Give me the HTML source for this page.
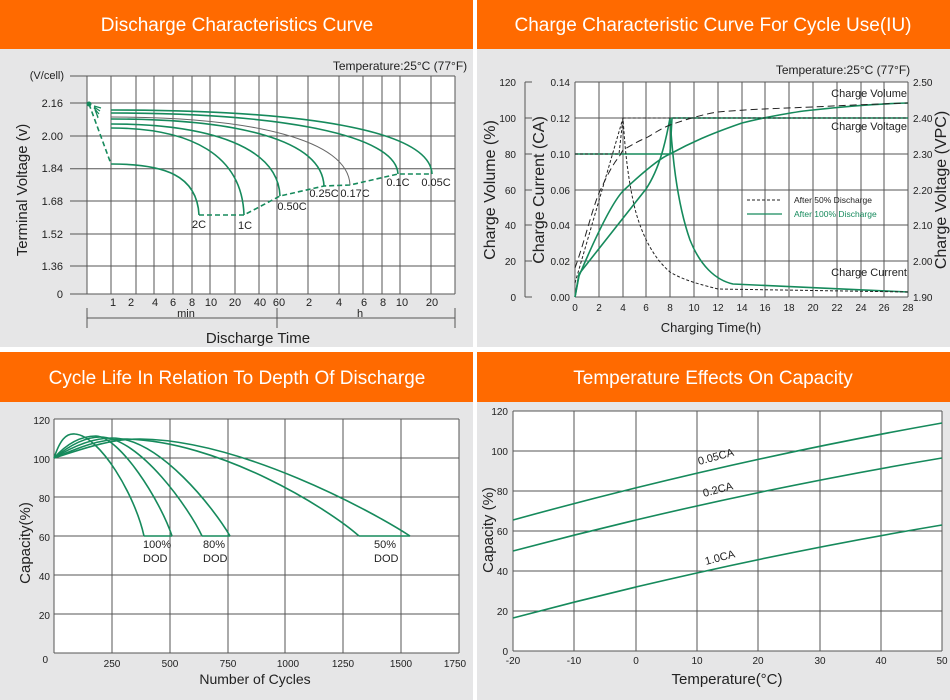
<!DOCTYPE html>
<html><head><meta charset="utf-8"><style>
html,body{margin:0;padding:0;background:#fff}
svg{display:block}
text{font-family:"Liberation Sans",sans-serif;fill:#222}
.h{fill:#fff;font-size:19px}
.t{font-size:11px}
.s{font-size:10px}
.g line{stroke:#555;stroke-width:1}
.c{fill:none;stroke:#168a5c;stroke-width:1.6}
</style></head><body>
<svg width="950" height="700" viewBox="0 0 950 700" xmlns="http://www.w3.org/2000/svg">
<rect width="950" height="700" fill="#fff"/>
<rect x="0" y="0" width="473" height="347" fill="#e6e6e7"/>
<rect x="477" y="0" width="473" height="347" fill="#e6e6e7"/>
<rect x="0" y="352" width="473" height="348" fill="#e6e6e7"/>
<rect x="477" y="352" width="473" height="348" fill="#e6e6e7"/>
<rect x="0" y="0" width="473" height="49" fill="#ff6a00"/>
<rect x="477" y="0" width="473" height="49" fill="#ff6a00"/>
<rect x="0" y="352" width="473" height="50" fill="#ff6a00"/>
<rect x="477" y="352" width="473" height="50" fill="#ff6a00"/>
<text class="h" x="237" y="31" text-anchor="middle">Discharge Characteristics Curve</text>
<text class="h" x="713" y="31" text-anchor="middle">Charge Characteristic Curve For Cycle Use(IU)</text>
<text class="h" x="237" y="384" text-anchor="middle">Cycle Life In Relation To Depth Of Discharge</text>
<text class="h" x="713" y="384" text-anchor="middle">Temperature Effects On Capacity</text>

<!-- PANEL 1 -->
<rect x="87" y="76" width="368" height="218" fill="#fff"/>
<g class="g">
<line x1="87" y1="76" x2="455" y2="76"/><line x1="87" y1="103" x2="455" y2="103"/><line x1="87" y1="136" x2="455" y2="136"/><line x1="87" y1="168.7" x2="455" y2="168.7"/><line x1="87" y1="201" x2="455" y2="201"/><line x1="87" y1="234" x2="455" y2="234"/><line x1="87" y1="266" x2="455" y2="266"/><line x1="87" y1="294" x2="455" y2="294"/>
<line x1="87" y1="76" x2="87" y2="294"/><line x1="111" y1="76" x2="111" y2="294"/><line x1="136" y1="76" x2="136" y2="294"/><line x1="154" y1="76" x2="154" y2="294"/><line x1="173" y1="76" x2="173" y2="294"/><line x1="192" y1="76" x2="192" y2="294"/><line x1="210" y1="76" x2="210" y2="294"/><line x1="235" y1="76" x2="235" y2="294"/><line x1="259" y1="76" x2="259" y2="294"/><line x1="277" y1="76" x2="277" y2="294"/><line x1="308" y1="76" x2="308" y2="294"/><line x1="339" y1="76" x2="339" y2="294"/><line x1="363" y1="76" x2="363" y2="294"/><line x1="382" y1="76" x2="382" y2="294"/><line x1="400" y1="76" x2="400" y2="294"/><line x1="431" y1="76" x2="431" y2="294"/><line x1="455" y1="76" x2="455" y2="294"/>
<line x1="70" y1="76" x2="87" y2="76"/><line x1="70" y1="103" x2="87" y2="103"/><line x1="70" y1="136" x2="87" y2="136"/><line x1="70" y1="168.7" x2="87" y2="168.7"/><line x1="70" y1="201" x2="87" y2="201"/><line x1="70" y1="234" x2="87" y2="234"/><line x1="70" y1="266" x2="87" y2="266"/><line x1="70" y1="294" x2="87" y2="294"/>
<line x1="87" y1="318" x2="455" y2="318"/><line x1="87" y1="308" x2="87" y2="328"/><line x1="277" y1="308" x2="277" y2="328"/><line x1="455" y1="308" x2="455" y2="328"/>
</g>
<g class="t" text-anchor="end">
<text x="64" y="79">(V/cell)</text><text x="63" y="107">2.16</text><text x="63" y="140">2.00</text><text x="63" y="172">1.84</text><text x="63" y="205">1.68</text><text x="63" y="238">1.52</text><text x="63" y="270">1.36</text><text x="63" y="298">0</text>
</g>
<g class="t" text-anchor="middle">
<text x="113" y="306">1</text><text x="131" y="306">2</text><text x="155" y="306">4</text><text x="173" y="306">6</text><text x="192" y="306">8</text><text x="211" y="306">10</text><text x="235" y="306">20</text><text x="260" y="306">40</text><text x="279" y="306">60</text><text x="309" y="306">2</text><text x="339" y="306">4</text><text x="364" y="306">6</text><text x="383" y="306">8</text><text x="402" y="306">10</text><text x="432" y="306">20</text>
<text x="186" y="317">min</text><text x="360" y="317">h</text>
</g>
<text x="258" y="343" text-anchor="middle" font-size="15">Discharge  Time</text>
<text x="400" y="70" text-anchor="middle" font-size="12">Temperature:25°C (77°F)</text>
<text transform="translate(27,190) rotate(-90)" text-anchor="middle" font-size="15">Terminal  Voltage  (v)</text>
<g class="c">
<path d="M111 110 C304 110,430 130,432 174"/>
<path d="M111 113 C283 113,396 135,398 174"/>
<path d="M111 119 C239 119,322 140,324 186"/>
<path d="M111 124 C212 124,278 148,280 196"/>
<path d="M111 128 C191 128,242 155,244 215"/>
<path d="M111 164 C164 164,197 175,199 215"/>
<path d="M89 104 L111 164 M199 215 L244 215 L280 196 L324 186 L350 185 L398 174 L432 174" stroke-dasharray="5,3"/>
<path d="M94 106 L101 108 M94 107 L100 111 M94 108 L99 114 M95 110 L98 117 M96 112 L98 118" stroke-width="1.2"/>
</g>
<path d="M111 117 C254 117,348 140,350 185" fill="none" stroke="#666" stroke-width="1"/>
<circle cx="89" cy="104" r="2.5" fill="#168a5c"/>
<g class="t" text-anchor="middle">
<text x="199" y="228">2C</text><text x="245" y="229">1C</text><text x="292" y="210">0.50C</text><text x="324" y="197">0.25C</text><text x="355" y="197">0.17C</text><text x="398" y="186">0.1C</text><text x="436" y="186">0.05C</text>
</g>

<!-- PANEL 2 -->
<rect x="575" y="82" width="333" height="215" fill="#fff"/>
<g class="g">
<line x1="575" y1="82" x2="908" y2="82"/><line x1="575" y1="118" x2="908" y2="118" stroke-width="1.6"/><line x1="575" y1="154" x2="908" y2="154" stroke-width="1.6"/><line x1="575" y1="190" x2="908" y2="190"/><line x1="575" y1="225" x2="908" y2="225"/><line x1="575" y1="261" x2="908" y2="261" stroke-width="1.6"/><line x1="575" y1="297" x2="908" y2="297"/>
<line x1="575" y1="82" x2="575" y2="297"/><line x1="599" y1="82" x2="599" y2="297"/><line x1="623" y1="82" x2="623" y2="297"/><line x1="646" y1="82" x2="646" y2="297"/><line x1="670" y1="82" x2="670" y2="297"/><line x1="694" y1="82" x2="694" y2="297"/><line x1="718" y1="82" x2="718" y2="297"/><line x1="742" y1="82" x2="742" y2="297"/><line x1="765" y1="82" x2="765" y2="297"/><line x1="789" y1="82" x2="789" y2="297"/><line x1="813" y1="82" x2="813" y2="297"/><line x1="837" y1="82" x2="837" y2="297"/><line x1="861" y1="82" x2="861" y2="297"/><line x1="884" y1="82" x2="884" y2="297"/><line x1="908" y1="82" x2="908" y2="297"/>
<line x1="525" y1="82" x2="525" y2="297"/><line x1="525" y1="82" x2="532" y2="82"/><line x1="525" y1="118" x2="532" y2="118"/><line x1="525" y1="154" x2="532" y2="154"/><line x1="525" y1="190" x2="532" y2="190"/><line x1="525" y1="225" x2="532" y2="225"/><line x1="525" y1="261" x2="532" y2="261"/><line x1="525" y1="297" x2="532" y2="297"/>
</g>
<g class="s" text-anchor="end">
<text x="516" y="86">120</text><text x="516" y="122">100</text><text x="516" y="158">80</text><text x="516" y="194">60</text><text x="516" y="229">40</text><text x="516" y="265">20</text><text x="516" y="301">0</text>
<text x="570" y="86">0.14</text><text x="570" y="122">0.12</text><text x="570" y="158">0.10</text><text x="570" y="194">0.06</text><text x="570" y="229">0.04</text><text x="570" y="265">0.02</text><text x="570" y="301">0.00</text>
</g>
<g class="s">
<text x="913" y="86">2.50</text><text x="913" y="122">2.40</text><text x="913" y="158">2.30</text><text x="913" y="194">2.20</text><text x="913" y="229">2.10</text><text x="913" y="265">2.00</text><text x="913" y="301">1.90</text>
</g>
<g class="s" text-anchor="middle">
<text x="575" y="311">0</text><text x="599" y="311">2</text><text x="623" y="311">4</text><text x="646" y="311">6</text><text x="670" y="311">8</text><text x="694" y="311">10</text><text x="718" y="311">12</text><text x="742" y="311">14</text><text x="765" y="311">16</text><text x="789" y="311">18</text><text x="813" y="311">20</text><text x="837" y="311">22</text><text x="861" y="311">24</text><text x="884" y="311">26</text><text x="908" y="311">28</text>
</g>
<text x="711" y="332" text-anchor="middle" font-size="13">Charging Time(h)</text>
<text x="843" y="74" text-anchor="middle" font-size="12">Temperature:25°C (77°F)</text>
<text transform="translate(495,190) rotate(-90)" text-anchor="middle" font-size="16">Charge  Volume (%)</text>
<text transform="translate(544,190) rotate(-90)" text-anchor="middle" font-size="16">Charge  Current (CA)</text>
<text transform="translate(946,190) rotate(-90)" text-anchor="middle" font-size="16">Charge Voltage (VPC)</text>
<g font-size="11" text-anchor="end">
<text x="907" y="97">Charge Volume</text><text x="907" y="130">Charge Voltage</text><text x="907" y="276">Charge Current</text>
</g>
<g class="c" stroke-width="1.3">
<path d="M575 297 L579 276 C590 250,610 205,623 191 C640 175,660 158,670 154 C690 143,710 134,742 123 C765 117,800 111,813 110 C840 107,870 104,908 103"/>
<path d="M575 297 L579 274 L646 189 C660 168,666 140,670 118 C672 150,676 200,690 240 C700 265,715 280,733 284 L908 292"/>
<path d="M575 154 L670 154 L672 118 L908 118"/>
</g>
<g fill="none" stroke="#222" stroke-width="1">
<path d="M575 268 C585 240,592 210,599 193 C606 178,612 165,619 157 L623 150 C632 145,640 140,646 138 C655 133,662 128,670 125 C690 118,705 114,718 112 C740 110,760 109,813 107 C850 105,880 104,908 103" stroke-dasharray="7,4"/>
<path d="M575 283 L623 118 C625 150,628 180,635 209 C640 228,650 255,670 272 C680 278,690 282,718 289 L908 292" stroke-dasharray="3,2"/>
<path d="M575 154 L619 154 L623 118 L908 118" stroke-dasharray="3,2"/>
<line x1="747" y1="200" x2="782" y2="200" stroke-dasharray="3,2"/>
</g>
<line x1="747" y1="214" x2="782" y2="214" stroke="#168a5c" stroke-width="1.3"/>
<text x="794" y="203" font-size="8.5">After 50% Discharge</text>
<text x="794" y="217" font-size="8.5" style="fill:#168a5c">After 100% Discharge</text>

<!-- PANEL 3 -->
<rect x="54" y="419" width="405" height="234" fill="#fff"/>
<g class="g">
<line x1="54" y1="419" x2="459" y2="419"/><line x1="54" y1="458" x2="459" y2="458"/><line x1="54" y1="497" x2="459" y2="497"/><line x1="54" y1="536" x2="459" y2="536"/><line x1="54" y1="575" x2="459" y2="575"/><line x1="54" y1="614" x2="459" y2="614"/><line x1="54" y1="653" x2="459" y2="653"/>
<line x1="54" y1="419" x2="54" y2="653"/><line x1="112" y1="419" x2="112" y2="653"/><line x1="170" y1="419" x2="170" y2="653"/><line x1="228" y1="419" x2="228" y2="653"/><line x1="285" y1="419" x2="285" y2="653"/><line x1="343" y1="419" x2="343" y2="653"/><line x1="401" y1="419" x2="401" y2="653"/><line x1="459" y1="419" x2="459" y2="653"/>
</g>
<g class="s" text-anchor="end">
<text x="50" y="424">120</text><text x="50" y="463">100</text><text x="50" y="502">80</text><text x="50" y="541">60</text><text x="50" y="580">40</text><text x="50" y="619">20</text><text x="48" y="663">0</text>
</g>
<g class="s" text-anchor="middle">
<text x="112" y="667">250</text><text x="170" y="667">500</text><text x="228" y="667">750</text><text x="288" y="667">1000</text><text x="343" y="667">1250</text><text x="401" y="667">1500</text><text x="455" y="667">1750</text>
</g>
<text x="255" y="684" text-anchor="middle" font-size="14">Number of Cycles</text>
<text transform="translate(30,543) rotate(-90)" text-anchor="middle" font-size="15">Capacity(%)</text>
<g class="c">
<path d="M54 458 C60 440,66 433,75 434 C100 436,135 495,144 536"/>
<path d="M54 458 C70 440,85 436,96 436 C120 437,160 500,172 536"/>
<path d="M54 458 C70 445,85 437,100 437 C140 437,190 510,202 536"/>
<path d="M54 458 C75 445,95 438,112 438 C160 438,215 510,230 536"/>
<path d="M54 458 C80 447,100 439,123 439 C220 440,330 510,359 536"/>
<path d="M54 458 C85 448,110 439,140 439 C240 440,370 510,410 536"/>
<path d="M144 536 L172 536 M202 536 L230 536 M359 536 L410 536"/>
</g>
<g font-size="11">
<text x="143" y="548">100%</text><text x="143" y="562">DOD</text>
<text x="203" y="548">80%</text><text x="203" y="562">DOD</text>
<text x="374" y="548">50%</text><text x="374" y="562">DOD</text>
</g>

<!-- PANEL 4 -->
<rect x="513" y="411" width="429" height="240" fill="#fff"/>
<g class="g">
<line x1="513" y1="411" x2="942" y2="411"/><line x1="513" y1="451" x2="942" y2="451"/><line x1="513" y1="491" x2="942" y2="491"/><line x1="513" y1="531" x2="942" y2="531"/><line x1="513" y1="571" x2="942" y2="571"/><line x1="513" y1="611" x2="942" y2="611"/><line x1="513" y1="651" x2="942" y2="651"/>
<line x1="513" y1="411" x2="513" y2="651"/><line x1="574" y1="411" x2="574" y2="651"/><line x1="636" y1="411" x2="636" y2="651"/><line x1="697" y1="411" x2="697" y2="651"/><line x1="758" y1="411" x2="758" y2="651"/><line x1="820" y1="411" x2="820" y2="651"/><line x1="881" y1="411" x2="881" y2="651"/><line x1="942" y1="411" x2="942" y2="651"/>
</g>
<g class="s" text-anchor="end">
<text x="508" y="415">120</text><text x="508" y="455">100</text><text x="508" y="495">80</text><text x="508" y="535">60</text><text x="508" y="575">40</text><text x="508" y="615">20</text><text x="508" y="655">0</text>
</g>
<g class="s" text-anchor="middle">
<text x="513" y="664">-20</text><text x="574" y="664">-10</text><text x="636" y="664">0</text><text x="697" y="664">10</text><text x="758" y="664">20</text><text x="820" y="664">30</text><text x="881" y="664">40</text><text x="942" y="664">50</text>
</g>
<text x="727" y="684" text-anchor="middle" font-size="15">Temperature(°C)</text>
<text transform="translate(493,530) rotate(-90)" text-anchor="middle" font-size="15">Capacity  (%)</text>
<g class="c" stroke-width="1.3">
<path d="M513 520 Q727 461 942 423"/>
<path d="M513 551 Q727 494 942 458"/>
<path d="M513 618 Q727 561 942 525"/>
</g>
<g font-size="11">
<text transform="translate(699,465) rotate(-15)">0.05CA</text>
<text transform="translate(704,497) rotate(-15)">0.2CA</text>
<text transform="translate(706,565) rotate(-15)">1.0CA</text>
</g>
</svg>
</body></html>
